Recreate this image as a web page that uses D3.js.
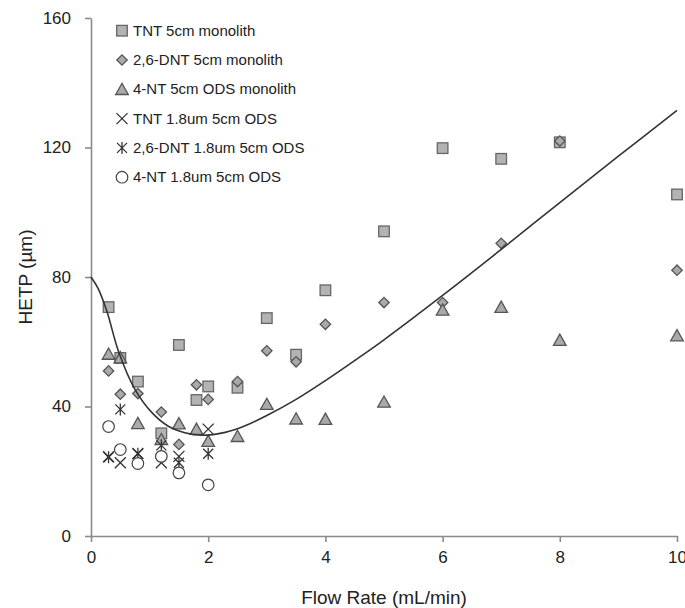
<html>
    <head>
        <meta charset="utf-8">
        <title>HETP vs Flow Rate</title>
        <style>
        body { margin: 0; background: #fff; }
        text { font-family: "Liberation Sans", Arial, sans-serif; fill: #222; }
        .axis path, .axis line { stroke: #8a8a8a; stroke-width: 1.6px; }
        .axis text { font-size: 17px; fill: #222; }
        .curve { fill: none; stroke: #333; stroke-width: 1.6px; }
        </style>
    </head>
    <body>
        <script src="https://d3js.org/d3.v7.min.js"></script>
        <script>

            // flow rates used for the monolith columns
            var flowRates = [0.3, 0.5, 0.8, 1.2, 1.5, 1.8, 2, 2.5, 3, 3.5, 4, 5, 6, 7, 8, 10];
            var tntMonolith = [70.7, 55, 47.7, 31.7, 59, 42, 46.2, 45.8, 67.3, 56, 75.9, 94.1, 119.8, 116.5, 121.6, 105.5];
            var dntMonolith = [51, 43.8, 44, 38.3, 28.3, 46.7, 42.2, 47.7, 57.2, 53.8, 65.4, 72.1, 72.1, 90.4, 122, 82.1];
            var ntMonolith = [56.2, 55.1, 34.8, 29.8, 34.7, 33, 29.3, 30.8, 40.7, 36.2, 36.1, 41.4, 69.8, 70.7, 60.5, 61.9];

            // flow rates for the 1.8um particle packed columns
            var odsFlowRates = [0.3, 0.5, 0.8, 1.2, 1.5, 2];
            var tntOds = [24.5, 22.6, 25.5, 22.6, 24.6, 33];
            var dntOds = [24.3, 39.1, 25.4, 28, 22.6, 25.4];
            var ntOds = [33.8, 26.7, 22.4, 24.6, 19.5, 15.8];

            // fitted curve
            var curveX = [0, 0.12, 0.27, 0.47, 0.75, 1.04, 1.32, 1.6, 1.89, 2.29, 2.6, 3, 3.5, 4, 4.5, 5, 6, 7, 8, 9, 10];
            var curveY = [80, 76.5, 69.5, 57, 45.3, 38.1, 33.9, 31.9, 31.1, 32, 33.8, 37.2, 42.2, 48, 54.2, 60.6, 74.3, 88.5, 103, 117.3, 131.5];

            var xTicks = [0, 2, 4, 6, 8, 10];
            var yTicks = [0, 40, 80, 120, 160];
            var legendLabels = ["TNT 5cm monolith", "2,6-DNT 5cm monolith", "4-NT 5cm ODS monolith",
                                "TNT 1.8um 5cm ODS", "2,6-DNT 1.8um 5cm ODS", "4-NT 1.8um 5cm ODS"];

            var W = 685, H = 608;
            var margin = {top: 18, right: 8, bottom: 72, left: 91};

            var x = d3.scaleLinear().domain([0, 10]).range([margin.left, 677]);
            var y = d3.scaleLinear().domain([0, 160]).range([536, margin.top]);

            var svg = d3.select("body").append("svg")
                .attr("width", W)
                .attr("height", H);

            // marker drawing helpers
            var grayFill = "#b3b3b3", darkStroke = "#555";

            function drawMarker(g, kind) {
                if (kind === "square") {
                    g.append("rect").attr("x", -5.3).attr("y", -5.3).attr("width", 10.6).attr("height", 10.6)
                        .attr("fill", grayFill).attr("stroke", "#666").attr("stroke-width", 1.3);
                } else if (kind === "diamond") {
                    g.append("path").attr("d", d3.symbol(d3.symbolSquare, 54)())
                        .attr("transform", "rotate(45)")
                        .attr("fill", "#aaa").attr("stroke", darkStroke).attr("stroke-width", 1.3);
                } else if (kind === "triangle") {
                    g.append("path").attr("d", "M0,-6L6.3,5.2L-6.3,5.2Z")
                        .attr("fill", "#aaa").attr("stroke", darkStroke).attr("stroke-width", 1.3);
                } else if (kind === "x") {
                    g.append("path").attr("d", "M-5.5,-5.5L5.5,5.5M-5.5,5.5L5.5,-5.5")
                        .attr("fill", "none").attr("stroke", "#333").attr("stroke-width", 1.3);
                } else if (kind === "star") {
                    g.append("path").attr("d", "M-5,-5L5,5M-5,5L5,-5M0,-6L0,6")
                        .attr("fill", "none").attr("stroke", "#333").attr("stroke-width", 1.3);
                } else if (kind === "circle") {
                    g.append("circle").attr("r", 5.8)
                        .attr("fill", "#fff").attr("stroke", "#444").attr("stroke-width", 1.2);
                }
            }

            var series = [
                {xs: flowRates, ys: tntMonolith, kind: "square"},
                {xs: flowRates, ys: dntMonolith, kind: "diamond"},
                {xs: flowRates, ys: ntMonolith, kind: "triangle"},
                {xs: odsFlowRates, ys: tntOds, kind: "x"},
                {xs: odsFlowRates, ys: dntOds, kind: "star"},
                {xs: odsFlowRates, ys: ntOds, kind: "circle"}
            ];

            // axes
            svg.append("g")
                .attr("class", "axis")
                .attr("transform", "translate(0,536)")
                .call(d3.axisBottom(x).tickValues(xTicks).tickSize(6).tickSizeOuter(0).tickPadding(9));

            svg.append("g")
                .attr("class", "axis")
                .attr("transform", "translate(" + margin.left + ",0)")
                .call(d3.axisLeft(y).tickValues(yTicks).tickSize(6).tickSizeOuter(0).tickPadding(14));

            // points
            series.forEach(function(s) {
                s.xs.forEach(function(fx, i) {
                    var g = svg.append("g")
                        .attr("transform", "translate(" + x(fx) + "," + y(s.ys[i]) + ")");
                    drawMarker(g, s.kind);
                });
            });

            // fitted curve
            var line = d3.line()
                .x(function(d) { return x(d[0]); })
                .y(function(d) { return y(d[1]); })
                .curve(d3.curveCatmullRom.alpha(0.5));

            svg.append("path")
                .datum(curveX.map(function(v, i) { return [v, curveY[i]]; }))
                .attr("class", "curve")
                .attr("d", line);

            // legend
            var legend = svg.append("g");
            legendLabels.forEach(function(label, i) {
                var ly = 30.7 + i * 29.3;
                var g = legend.append("g").attr("transform", "translate(122," + ly + ")");
                drawMarker(g, series[i].kind);
                legend.append("text")
                    .attr("x", 133)
                    .attr("y", ly + 5)
                    .style("font-size", "15px")
                    .text(label);
            });

            // axis titles
            svg.append("text")
                .attr("x", (x(0) + x(10)) / 2)
                .attr("y", 604)
                .attr("text-anchor", "middle")
                .style("font-size", "19px")
                .text("Flow Rate (mL/min)");

            svg.append("text")
                .attr("transform", "translate(32," + ((y(0) + y(160)) / 2) + ") rotate(-90)")
                .attr("text-anchor", "middle")
                .style("font-size", "19px")
                .text("HETP (\u00b5m)");

        </script>
    </body>
</html>
